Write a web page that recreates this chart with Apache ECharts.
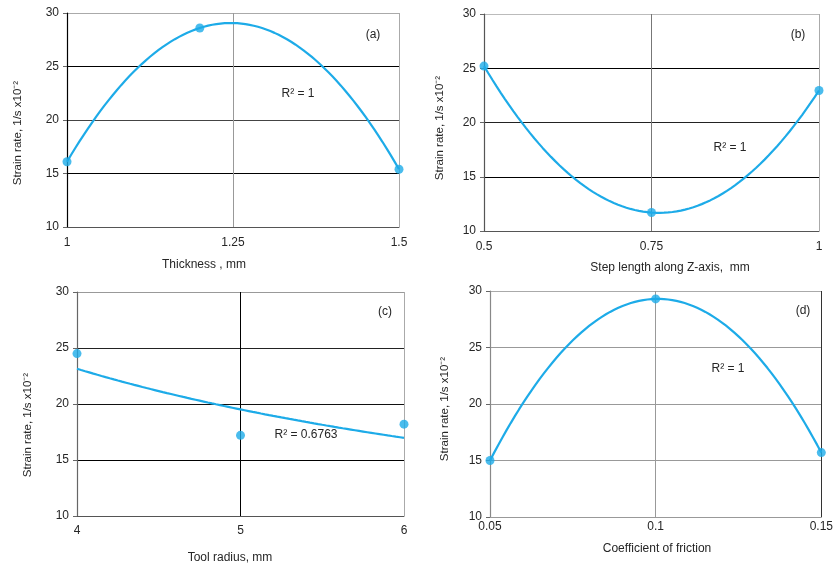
<!DOCTYPE html>
<html>
<head>
<meta charset="utf-8">
<script src="https://cdn.jsdelivr.net/npm/echarts@6/dist/echarts.min.js"></script>
<style>html,body{margin:0;padding:0;background:#fff}#c{width:836px;height:568px}</style>
</head>
<body>
<div id="c"></div>
<script>
// ---- data ----
const thicknessX = [1, 1.2, 1.5];
const thicknessY = [16.1, 28.6, 15.4];
const stepX = [0.5, 0.75, 1];
const stepY = [25.2, 11.7, 22.95];
const radiusX = [4, 5, 6];
const radiusY = [24.5, 17.2, 18.2];
const frictionX = [0.05, 0.1, 0.15];
const frictionY = [15.0, 29.3, 15.7];

const xTicksA = [1, 1.5, 0.25];
const xTicksB = [0.5, 1, 0.25];
const xTicksC = [4, 6, 1];
const xTicksD = [0.05, 0.15, 0.05];
const yTicks = [10, 30, 5];

const yName = 'Strain rate, 1/s x10⁻²';
const xNames = ['Thickness , mm', 'Step length along Z-axis,  mm', 'Tool radius, mm', 'Coefficient of friction'];
const r2Labels = ['R² = 1', 'R² = 1', 'R² = 0.6763', 'R² = 1'];
const panelLabels = ['(a)', '(b)', '(c)', '(d)'];

// ---- trendlines (regression of the data, like a spreadsheet trendline) ----
function polyFit2(xs, ys) {
  // least squares quadratic (exact for 3 points) -> Lagrange form
  return function (x) {
    let s = 0;
    for (let i = 0; i < 3; i++) {
      let t = ys[i];
      for (let j = 0; j < 3; j++) if (j !== i) t *= (x - xs[j]) / (xs[i] - xs[j]);
      s += t;
    }
    return s;
  };
}
function powerFit(xs, ys) {
  const lx = xs.map(Math.log), ly = ys.map(Math.log);
  const n = xs.length;
  const mx = lx.reduce((a, b) => a + b) / n, my = ly.reduce((a, b) => a + b) / n;
  let sxy = 0, sxx = 0;
  for (let i = 0; i < n; i++) { sxy += (lx[i] - mx) * (ly[i] - my); sxx += (lx[i] - mx) ** 2; }
  const b = sxy / sxx, a = my - b * mx;
  return x => Math.exp(a + b * Math.log(x));
}
function sample(f, x0, x1) {
  const out = [];
  const n = 80;
  for (let i = 0; i <= n; i++) { const x = x0 + (x1 - x0) * i / n; out.push([x, f(x)]); }
  return out;
}

const blue = '#1dabe8';
const txt = '#262626';
const font = 'Liberation Sans, Arial, sans-serif';

const grids = [
  { left: 67, top: 13, width: 332, height: 214 },
  { left: 484, top: 14, width: 335, height: 217 },
  { left: 77, top: 292, width: 327, height: 224 },
  { left: 490, top: 291, width: 334, height: 226 }
];

const xTicks = [xTicksA, xTicksB, xTicksC, xTicksD];
const ySplitColors = [
  ['#555', '#000', '#444', '#000', '#aaa'],
  ['#555', '#000', '#222', '#000', '#bbb'],
  ['#555', '#000', '#111', '#222', '#999'],
  ['#999', '#999', '#999', '#999', '#aaa']
];
const xSplitColors = [
  ['#000', '#999', '#aaa'],
  ['#555', '#777', '#aaa'],
  ['#666', '#000', '#aaa'],
  ['#888', '#999', '#333']
];
const yAxisColors = ['#000', '#555', '#666', '#888'];
const xAxisColors = ['#555', '#555', '#555', '#999'];
const xLabelMargins = [10, 10, 9, 4];

const xAxes = [], yAxes = [];
for (let i = 0; i < 4; i++) {
  xAxes.push({
    type: 'value', gridIndex: i, min: xTicks[i][0], max: xTicks[i][1], interval: xTicks[i][2],
    axisLine: { show: true, onZero: false, lineStyle: { color: xAxisColors[i], width: 1 } },
    axisTick: { show: false },
    splitLine: { show: true, lineStyle: { color: xSplitColors[i], width: 1 } },
    axisLabel: { color: txt, fontSize: 12, fontFamily: font, margin: xLabelMargins[i] }
  });
  yAxes.push({
    type: 'value', gridIndex: i, min: yTicks[0], max: yTicks[1], interval: yTicks[2],
    axisLine: { show: true, lineStyle: { color: yAxisColors[i], width: 1.2 } },
    axisTick: { show: true, length: 4, lineStyle: { color: '#666' } },
    splitLine: { show: true, lineStyle: { color: ySplitColors[i], width: 1 } },
    axisLabel: { color: txt, fontSize: 12, fontFamily: font, margin: 8 }
  });
}

const datasets = [
  [thicknessX, thicknessY, polyFit2(thicknessX, thicknessY)],
  [stepX, stepY, polyFit2(stepX, stepY)],
  [radiusX, radiusY, powerFit(radiusX, radiusY)],
  [frictionX, frictionY, polyFit2(frictionX, frictionY)]
];
const series = [];
datasets.forEach((d, i) => {
  series.push({
    type: 'line', xAxisIndex: i, yAxisIndex: i, showSymbol: false, silent: true,
    data: sample(d[2], xTicks[i][0], xTicks[i][1]),
    lineStyle: { color: blue, width: 2.2 }, z: 3
  });
  series.push({
    type: 'scatter', xAxisIndex: i, yAxisIndex: i, symbolSize: 9,
    data: d[0].map((x, k) => [x, d[1][k]]),
    itemStyle: { color: blue }, z: 4
  });
});

// text positions
const yNamePos = [[18, 133], [440, 128], [28, 425], [445, 409]];
const xNamePos = [[204, 265], [670, 268], [230, 558], [657, 549]];
const r2Pos = [[298, 94], [730, 148], [306, 435], [728, 369]];
const panelPos = [[373, 35], [798, 35], [385, 312], [803, 311]];

const graphic = [];
for (let i = 0; i < 4; i++) {
  graphic.push({ type: 'text', x: yNamePos[i][0], y: yNamePos[i][1], rotation: Math.PI / 2,
    style: { text: yName, fill: txt, font: '11.5px ' + font, textAlign: 'center', textVerticalAlign: 'middle' } });
  graphic.push({ type: 'text', x: xNamePos[i][0], y: xNamePos[i][1],
    style: { text: xNames[i], fill: txt, font: '12px ' + font, textAlign: 'center', textVerticalAlign: 'middle' } });
  graphic.push({ type: 'text', x: r2Pos[i][0], y: r2Pos[i][1],
    style: { text: r2Labels[i], fill: txt, font: '12px ' + font, textAlign: 'center', textVerticalAlign: 'middle' } });
  graphic.push({ type: 'text', x: panelPos[i][0], y: panelPos[i][1],
    style: { text: panelLabels[i], fill: txt, font: '12px ' + font, textAlign: 'center', textVerticalAlign: 'middle' } });
}

const chart = echarts.init(document.getElementById('c'), null, { renderer: 'canvas' });
chart.setOption({
  animation: false,
  backgroundColor: '#fff',
  grid: grids,
  xAxis: xAxes,
  yAxis: yAxes,
  series: series,
  graphic: graphic
});
</script>
</body>
</html>
